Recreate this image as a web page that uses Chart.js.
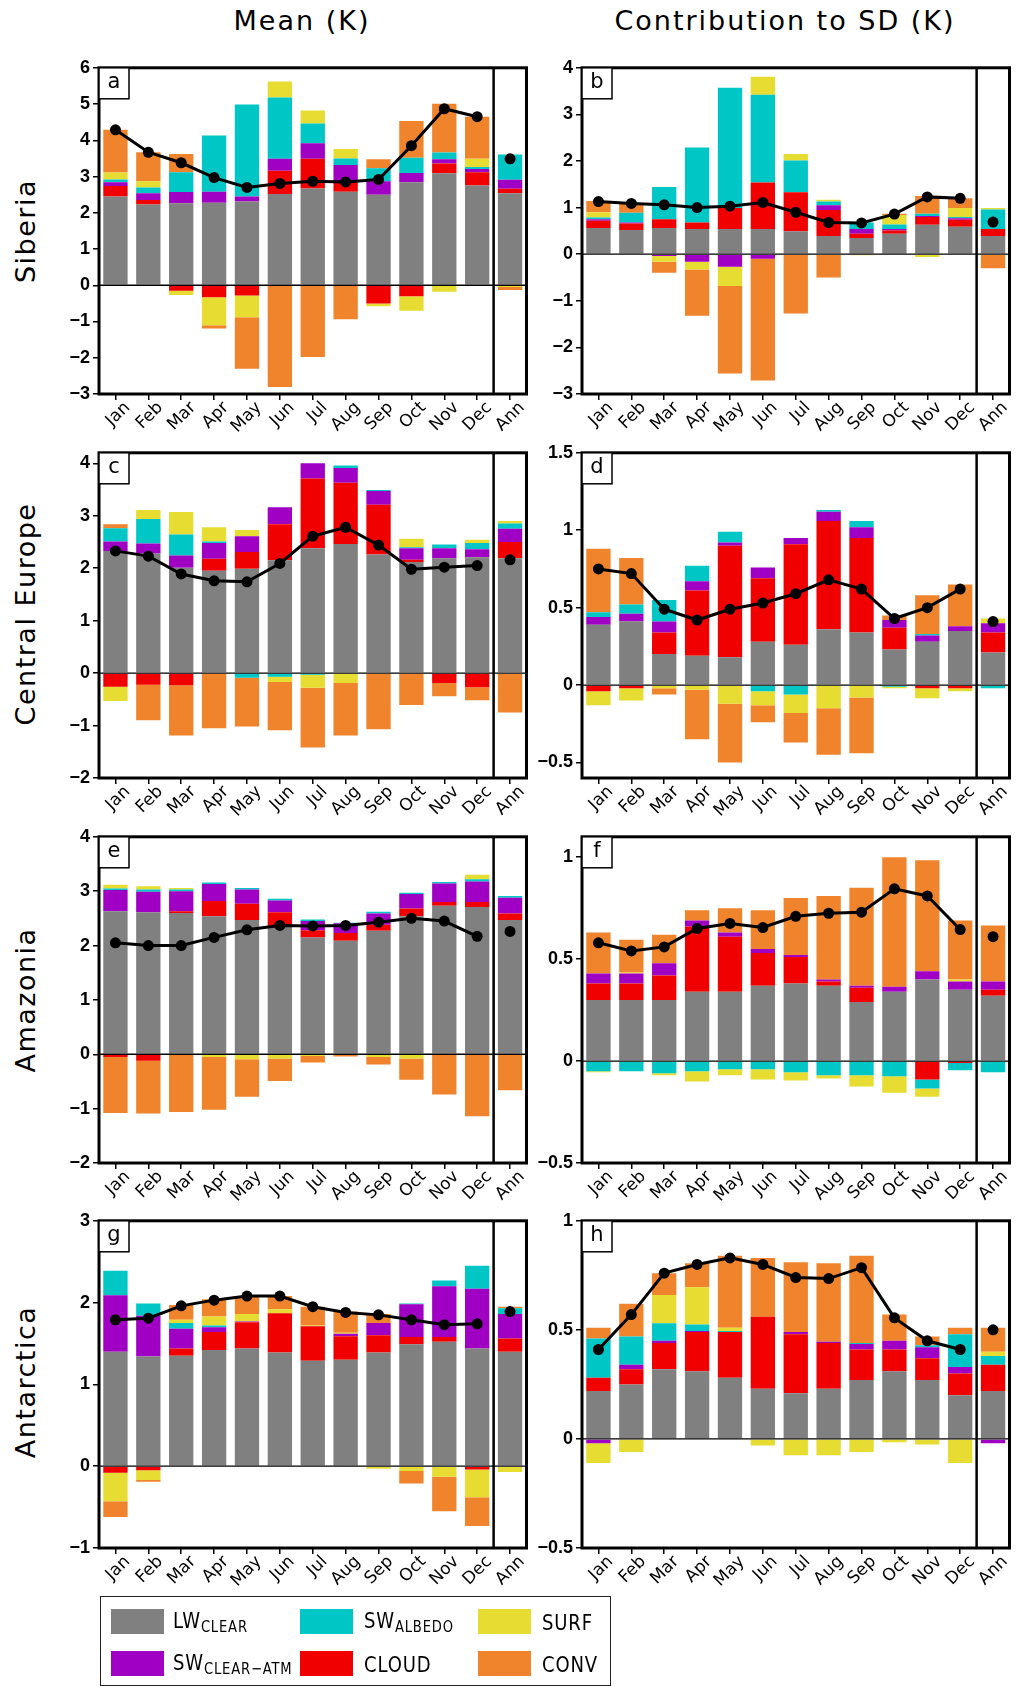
<!DOCTYPE html>
<html>
<head>
<meta charset="utf-8">
<script src="https://cdn.jsdelivr.net/npm/chart.js@4.4.1/dist/chart.umd.min.js"></script>
<style>
  body { margin:0; background:#fff; width:1016px; height:1686px; position:relative; overflow:hidden; font-family:"DejaVu Sans", sans-serif; color:#000; }
  canvas { position:absolute; }
  .title { position:absolute; top:5px; font-size:27px; letter-spacing:2px; white-space:nowrap; transform:translateX(-50%); }
  .row { position:absolute; font-size:27px; letter-spacing:1.5px; white-space:nowrap; transform:translate(-50%,-50%) rotate(-90deg); }
  #legend { position:absolute; left:100px; top:1596px; width:509px; height:88px; border:1px solid #222; }
  .sw { position:absolute; width:53px; height:25px; }
  .lab { position:absolute; font-size:22px; white-space:nowrap; transform:translateY(-50%) scaleX(0.82); transform-origin:left center; letter-spacing:1px; }
  .lab sub { font-size:16px; vertical-align:-4px; }
</style>
</head>
<body>
<div class="title" style="left:302px">Mean (K)</div>
<div class="title" style="left:785px">Contribution to SD (K)</div>
<div class="row" style="left:25px; top:231px">Siberia</div>
<div class="row" style="left:25px; top:614px">Central Europe</div>
<div class="row" style="left:25px; top:1000px">Amazonia</div>
<div class="row" style="left:25px; top:1382px">Antarctica</div>

<canvas id="a"></canvas><canvas id="b"></canvas>
<canvas id="c"></canvas><canvas id="d"></canvas>
<canvas id="e"></canvas><canvas id="f"></canvas>
<canvas id="g"></canvas><canvas id="h"></canvas>

<div id="legend"></div>

<script>
const months = ['Jan','Feb','Mar','Apr','May','Jun','Jul','Aug','Sep','Oct','Nov','Dec','Ann'];
const names = ['LW_CLEAR','CLOUD','SW_CLEAR-ATM','SW_ALBEDO','SURF','CONV'];
const colors = ['#808080','#f00000','#a000c4','#00c6c6','#e6dc32','#f0842c'];

// a: Siberia mean
const aLw    = [2.45,2.23,2.26,2.28,2.31,2.52,2.67,2.58,2.50,2.84,3.09,2.75,2.54];
const aCloud = [0.29,0.12,-0.15,-0.33,-0.28,0.64,0.82,0.27,-0.50,-0.30,0.27,0.37,0.12];
const aSwAtm = [0.10,0.19,0.31,0.30,0.14,0.33,0.43,0.47,0.37,0.26,0.12,0.09,0.25];
const aSwAlb = [0.08,0.16,0.55,1.55,2.54,1.69,0.54,0.18,0.36,0.42,0.18,0.05,0.70];
const aSurf  = [0.19,0.17,-0.12,-0.77,-0.60,0.44,0.36,0.26,-0.08,-0.40,-0.18,0.23,-0.05];
const aConv  = [1.18,0.80,0.50,-0.09,-1.42,-2.81,-1.98,-0.94,0.25,1.01,1.35,1.16,-0.08];
const aTot   = [4.29,3.67,3.38,2.97,2.70,2.81,2.87,2.85,2.92,3.85,4.87,4.65,3.49];
const aTicks = [-3,-2,-1,0,1,2,3,4,5,6];

// b: Siberia SD
const bLw    = [0.56,0.52,0.56,0.54,0.54,0.54,0.49,0.39,0.35,0.44,0.63,0.59,0.39];
const bCloud = [0.16,0.14,0.19,0.14,0.45,1.00,0.84,0.56,0.09,0.07,0.17,0.15,0.15];
const bSwAtm = [0.03,0.02,-0.04,-0.16,-0.27,-0.10,0,0.10,0.10,0.03,0.02,0.03,0];
const bSwAlb = [0.04,0.21,0.69,1.61,2.58,1.88,0.68,0.08,0.14,0.10,0.05,0.03,0.42];
const bSurf  = [0.11,0,-0.12,-0.17,-0.41,0.39,0.14,0.04,-0.02,0.20,-0.06,0.19,0.03];
const bConv  = [0.24,0.19,-0.24,-0.99,-1.88,-2.61,-1.27,-0.50,0,0.03,0.38,0.21,-0.30];
const bTot   = [1.13,1.09,1.06,1.00,1.03,1.11,0.90,0.68,0.67,0.86,1.23,1.20,0.69];
const bTicks = [-3,-2,-1,0,1,2,3,4];

// c: Central Europe mean
const cLw    = [2.33,2.28,2.01,1.95,1.99,2.15,2.38,2.46,2.26,2.12,2.19,2.21,2.19];
const cCloud = [-0.26,-0.22,-0.23,0.23,0.32,0.69,1.33,1.17,0.95,0.04,-0.19,-0.27,0.31];
const cSwAtm = [0.18,0.19,0.23,0.30,0.30,0.32,0.29,0.28,0.26,0.22,0.19,0.15,0.25];
const cSwAlb = [0.25,0.47,0.40,0.03,-0.09,-0.07,-0.03,0.05,0.02,0.02,0.07,0.12,0.10];
const cSurf  = [-0.27,0.17,0.43,0.27,0.12,-0.10,-0.25,-0.19,0,0.16,0,0.06,0.05];
const cConv  = [0.08,-0.68,-0.96,-1.05,-0.93,-0.92,-1.14,-1.00,-1.07,-0.61,-0.25,-0.25,-0.75];
const cTot   = [2.33,2.23,1.89,1.76,1.74,2.09,2.61,2.78,2.44,1.98,2.02,2.05,2.16];
const cTicks = [-2,-1,0,1,2,3,4];

// d: Central Europe SD
const dLw    = [0.39,0.41,0.20,0.19,0.18,0.28,0.26,0.36,0.34,0.23,0.28,0.35,0.21];
const dCloud = [-0.04,-0.02,0.14,0.42,0.72,0.41,0.65,0.70,0.61,0.14,-0.02,-0.02,0.13];
const dSwAtm = [0.05,0.05,0.07,0.06,0.02,0.07,0.04,0.06,0.07,0.05,0.04,0.03,0.06];
const dSwAlb = [0.03,0.06,0.14,0.10,0.07,-0.04,-0.06,0.01,0.04,-0.01,0.01,0,-0.02];
const dSurf  = [-0.09,-0.08,-0.02,-0.03,-0.12,-0.09,-0.12,-0.15,-0.08,-0.01,-0.065,-0.02,0.03];
const dConv  = [0.41,0.30,-0.04,-0.32,-0.38,-0.11,-0.19,-0.30,-0.36,0.03,0.25,0.27,0];
const dTot   = [0.75,0.72,0.49,0.42,0.49,0.53,0.59,0.68,0.62,0.43,0.50,0.62,0.41];
const dTicks = [-0.5,0,0.5,1,1.5];

// e: Amazonia mean
const eLw    = [2.63,2.61,2.60,2.54,2.47,2.36,2.15,2.09,2.27,2.54,2.73,2.71,2.47];
const eCloud = [-0.05,-0.12,0.03,0.28,0.30,0.25,0.13,0.14,0.11,0.14,0.07,0.09,0.12];
const eSwAtm = [0.39,0.38,0.37,0.31,0.26,0.22,0.17,0.18,0.21,0.27,0.34,0.38,0.29];
const eSwAlb = [0.03,0.04,0.03,0.03,0.03,0.03,0.03,0.01,0.03,0.02,0.03,0.04,0.03];
const eSurf  = [0.07,0.06,0.03,-0.05,-0.09,-0.08,-0.03,0,-0.05,-0.08,0,0.08,0];
const eConv  = [-1.03,-0.97,-1.06,-0.97,-0.69,-0.41,-0.12,-0.04,-0.14,-0.39,-0.74,-1.14,-0.66];
const eTot   = [2.05,2.00,2.00,2.15,2.29,2.37,2.36,2.37,2.43,2.50,2.45,2.17,2.26];
const eTicks = [-2,-1,0,1,2,3,4];

// f: Amazonia SD
const fLw    = [0.30,0.30,0.30,0.34,0.34,0.37,0.38,0.37,0.29,0.34,0.40,0.35,0.32];
const fCloud = [0.08,0.08,0.12,0.32,0.27,0.16,0.13,0.02,0.07,0,-0.09,-0.01,0.03];
const fSwAtm = [0.05,0.05,0.06,0.03,0.02,0.02,0.01,0.01,0.01,0.025,0.04,0.04,0.04];
const fSwAlb = [-0.05,-0.05,-0.06,-0.05,-0.04,-0.04,-0.055,-0.07,-0.07,-0.075,-0.045,-0.035,-0.055];
const fSurf  = [-0.005,0.005,-0.01,-0.05,-0.03,-0.05,-0.04,-0.015,-0.055,-0.08,-0.04,0.01,0];
const fConv  = [0.20,0.16,0.14,0.05,0.12,0.19,0.28,0.41,0.48,0.635,0.545,0.29,0.275];
const fTot   = [0.58,0.54,0.56,0.65,0.675,0.655,0.71,0.725,0.73,0.845,0.81,0.645,0.61];
const fTicks = [-0.5,0,0.5,1];

// g: Antarctica mean
const gLw    = [1.40,1.34,1.35,1.42,1.44,1.39,1.29,1.30,1.39,1.49,1.52,1.44,1.40];
const gCloud = [-0.08,-0.05,0.09,0.22,0.32,0.48,0.42,0.29,0.21,0.09,0.06,-0.04,0.16];
const gSwAtm = [0.69,0.50,0.24,0.06,0.01,0,0,0.03,0.15,0.40,0.62,0.73,0.30];
const gSwAlb = [0.30,0.15,0.07,0.02,0,0,0,0,0,0.01,0.07,0.28,0.07];
const gSurf  = [-0.35,-0.12,0.04,0.11,0.09,0.05,0.01,0.01,-0.03,-0.06,-0.13,-0.34,-0.07];
const gConv  = [-0.19,-0.02,0.18,0.21,0.22,0.16,0.23,0.26,0.11,-0.15,-0.42,-0.35,0.02];
const gTot   = [1.79,1.81,1.96,2.03,2.08,2.08,1.95,1.88,1.85,1.79,1.73,1.74,1.89];
const gTicks = [-1,0,1,2,3];

// h: Antarctica SD
const hLw    = [0.22,0.25,0.32,0.31,0.28,0.23,0.21,0.23,0.27,0.31,0.27,0.20,0.22];
const hCloud = [0.06,0.07,0.12,0.18,0.21,0.33,0.27,0.21,0.14,0.10,0.10,0.10,0.12];
const hSwAtm = [-0.02,0.02,0.01,0.005,0,0,0.01,0.005,0.025,0.04,0.05,0.03,-0.02];
const hSwAlb = [0.18,0.13,0.08,0.03,0.005,0,0,0,0.005,0,0.01,0.15,0.04];
const hSurf  = [-0.09,-0.06,0.13,0.17,0.015,-0.03,-0.075,-0.075,-0.06,-0.015,-0.025,-0.11,0.02];
const hConv  = [0.05,0.15,0.10,0.11,0.33,0.27,0.32,0.36,0.40,0.12,0.04,0.03,0.11];
const hTot   = [0.41,0.57,0.76,0.80,0.83,0.80,0.74,0.735,0.785,0.555,0.45,0.41,0.50];
const hTicks = [-0.5,0,0.5,1];

// frame, zero line, Dec/Ann divider, panel letter and slanted month labels
const deco = {
  id: 'deco',
  afterDraw(chart, args, opts) {
    const ctx = chart.ctx, a = chart.chartArea, x = chart.scales.x, y = chart.scales.y;
    ctx.save();
    ctx.strokeStyle = '#000';
    const y0 = y.getPixelForValue(0);
    ctx.lineWidth = 1.3;
    ctx.beginPath(); ctx.moveTo(a.left, y0); ctx.lineTo(a.right, y0); ctx.stroke();
    const xd = (x.getPixelForValue(11) + x.getPixelForValue(12)) / 2;
    ctx.lineWidth = 2.5;
    ctx.beginPath(); ctx.moveTo(xd, a.top); ctx.lineTo(xd, a.bottom); ctx.stroke();
    ctx.lineWidth = 3;
    ctx.strokeRect(a.left, a.top, a.right - a.left, a.bottom - a.top);
    ctx.fillStyle = '#fff';
    ctx.fillRect(a.left, a.top, 30, 31);
    ctx.lineWidth = 1.5;
    ctx.strokeRect(a.left, a.top, 30, 31);
    ctx.fillStyle = '#000';
    ctx.font = '21px "DejaVu Sans"';
    ctx.textAlign = 'center';
    ctx.textBaseline = 'middle';
    ctx.fillText(opts.letter, a.left + 15, a.top + 15);

    ctx.font = '17px "DejaVu Sans"';
    ctx.textAlign = 'right';
    ctx.textBaseline = 'middle';
    chart.data.labels.forEach((lab, i) => {
      const px = x.getPixelForValue(i);
      ctx.save();
      ctx.translate(px + 12, a.bottom + 11);
      ctx.rotate(-Math.PI / 4);
      ctx.fillText(lab, 0, 0);
      ctx.restore();
    });
    ctx.restore();
  }
};

const rows = [[62,394],[447,778],[831,1163],[1215,1548]];
const cols = [{left:40, width:492, yw:59}, {left:520, width:495, yw:62}];

const panels = [
  {id:'a', r:0, c:0, min:-3, max:6, ticks:aTicks, comps:[aLw,aCloud,aSwAtm,aSwAlb,aSurf,aConv], tot:aTot},
  {id:'b', r:0, c:1, min:-3, max:4, ticks:bTicks, comps:[bLw,bCloud,bSwAtm,bSwAlb,bSurf,bConv], tot:bTot},
  {id:'c', r:1, c:0, min:-2, max:4.2, ticks:cTicks, comps:[cLw,cCloud,cSwAtm,cSwAlb,cSurf,cConv], tot:cTot},
  {id:'d', r:1, c:1, min:-0.6, max:1.5, ticks:dTicks, comps:[dLw,dCloud,dSwAtm,dSwAlb,dSurf,dConv], tot:dTot},
  {id:'e', r:2, c:0, min:-2, max:4, ticks:eTicks, comps:[eLw,eCloud,eSwAtm,eSwAlb,eSurf,eConv], tot:eTot},
  {id:'f', r:2, c:1, min:-0.5, max:1.1, ticks:fTicks, comps:[fLw,fCloud,fSwAtm,fSwAlb,fSurf,fConv], tot:fTot},
  {id:'g', r:3, c:0, min:-1, max:3, ticks:gTicks, comps:[gLw,gCloud,gSwAtm,gSwAlb,gSurf,gConv], tot:gTot},
  {id:'h', r:3, c:1, min:-0.5, max:1, ticks:hTicks, comps:[hLw,hCloud,hSwAtm,hSwAlb,hSurf,hConv], tot:hTot},
];

panels.forEach(p => {
  const col = cols[p.c], row = rows[p.r];
  const cv = document.getElementById(p.id);
  const h = 8 + (row[1] - row[0]) + 50;
  cv.width = col.width; cv.height = h;
  cv.style.left = col.left + 'px';
  cv.style.top = (row[0] - 8) + 'px';

  const datasets = p.comps.map((d, i) => ({
    type: 'bar', label: names[i], data: d, backgroundColor: colors[i],
    stack: 'bars', barPercentage: 0.74, categoryPercentage: 1, order: 2, borderWidth: 0
  }));
  datasets.push({
    type: 'line', label: 'total', data: p.tot.slice(0, 12).concat([null]), stack: 'l1',
    borderColor: '#000', borderWidth: 3, pointRadius: 5.5, pointBackgroundColor: '#000',
    pointBorderWidth: 0, tension: 0, spanGaps: false, order: 0
  });
  datasets.push({
    type: 'line', label: 'annual', data: Array(12).fill(null).concat([p.tot[12]]), stack: 'l2',
    showLine: false, pointRadius: 5.5, pointBackgroundColor: '#000', pointBorderWidth: 0, order: 0
  });

  new Chart(cv, {
    data: { labels: months, datasets: datasets },
    plugins: [deco],
    options: {
      responsive: false, animation: false, devicePixelRatio: 1, events: [],
      layout: { padding: { left: 0, right: 5, top: 8, bottom: 0 } },
      plugins: { legend: { display: false }, tooltip: { enabled: false }, deco: { letter: p.id } },
      scales: {
        x: {
          stacked: true,
          grid: { display: true, drawOnChartArea: false, drawTicks: true, tickLength: 6, color: '#000', lineWidth: 1.5, offset: false },
          border: { display: false },
          ticks: { display: false },
          afterFit: s => { s.height = 50; }
        },
        y: {
          stacked: true, min: p.min, max: p.max,
          afterBuildTicks: s => { s.ticks = p.ticks.map(v => ({ value: v })); },
          grid: { drawOnChartArea: false, drawTicks: true, tickLength: 6, color: '#000', lineWidth: 1.5 },
          border: { display: false },
          ticks: { color: '#000', font: { family: 'Liberation Sans', size: 18, weight: 'bold' }, padding: 3,
                   callback: v => String(v).replace('-', '\u2212') },
          afterFit: s => { s.width = col.yw; }
        }
      }
    }
  });
});

// legend
const leg = document.getElementById('legend');
const legOrder = [0, 3, 4, 2, 1, 5];
const legText = ['LW<sub>CLEAR</sub>','SW<sub>ALBEDO</sub>','SURF','SW<sub>CLEAR\u2212ATM</sub>','CLOUD','CONV'];
const swX = [111, 300, 478], labX = [173, 364, 542], swY = [1609, 1651];
legOrder.forEach((ci, k) => {
  const cx = k % 3, ry = Math.floor(k / 3);
  const sw = document.createElement('div');
  sw.className = 'sw';
  sw.style.left = (swX[cx] - 101) + 'px';
  sw.style.top = (swY[ry] - 1597) + 'px';
  sw.style.background = colors[ci];
  leg.appendChild(sw);
  const lb = document.createElement('div');
  lb.className = 'lab';
  lb.style.left = (labX[cx] - 101) + 'px';
  lb.style.top = (swY[ry] + 13 - 1597) + 'px';
  lb.innerHTML = legText[k];
  leg.appendChild(lb);
});
</script>
</body>
</html>
